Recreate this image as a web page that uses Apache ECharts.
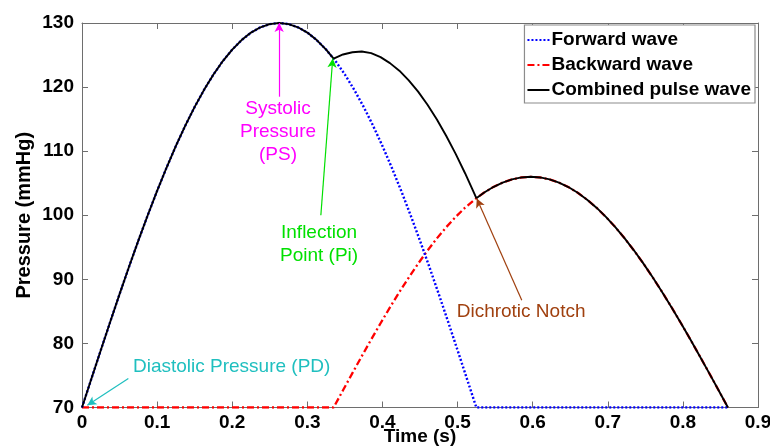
<!DOCTYPE html>
<html>
<head>
<meta charset="utf-8">
<script src="https://cdn.jsdelivr.net/npm/echarts@6/dist/echarts.min.js"></script>
<style>html,body{margin:0;padding:0;background:#fff}#c{width:770px;height:448px}</style>
</head>
<body>
<div id="c"></div>
<script>
// Time (s) and pressure (mmHg) readings
const forwardT = [0,0.0125,0.025,0.0375,0.05,0.0625,0.075,0.0875,0.1,0.1125,0.125,0.1375,0.15,0.1625,0.175,0.1875,0.2,0.2125,0.225,0.2375,0.25,0.2625,0.275,0.2875,0.3,0.3125,0.325,0.3375,0.35,0.3625,0.375,0.3875,0.4,0.4125,0.425,0.4375,0.45,0.4625,0.475,0.4875,0.5,0.5125,0.525,0.6,0.7,0.8,0.86];
const forwardP = [70,74.48,78.94,83.35,87.69,91.92,96.03,100,103.8,107.41,110.81,113.98,116.91,119.57,121.96,124.06,125.85,127.33,128.5,129.33,129.83,130,129.83,129.33,128.5,127.33,125.85,124.06,121.96,119.57,116.91,113.98,110.81,107.41,103.8,100,96.03,91.92,87.69,83.35,78.94,74.48,70,70,70,70,70];

const backwardT = [0,0.1,0.2,0.3,0.335,0.3475,0.36,0.3725,0.385,0.3975,0.41,0.4225,0.435,0.4475,0.46,0.4725,0.485,0.4975,0.51,0.5225,0.535,0.5475,0.56,0.5725,0.585,0.5975,0.61,0.6225,0.635,0.6475,0.66,0.6725,0.685,0.6975,0.71,0.7225,0.735,0.7475,0.76,0.7725,0.785,0.7975,0.81,0.8225,0.835,0.8475,0.86];
const backwardP = [70,70,70,70,70,72.69,75.37,78.01,80.61,83.15,85.62,88,90.28,92.45,94.49,96.39,98.15,99.74,101.18,102.43,103.51,104.4,105.1,105.6,105.9,106,105.9,105.6,105.1,104.4,103.51,102.43,101.18,99.74,98.15,96.39,94.49,92.45,90.28,88,85.62,83.15,80.61,78.01,75.37,72.69,70];

const combinedT = [0,0.0125,0.025,0.0375,0.05,0.0625,0.075,0.0875,0.1,0.1125,0.125,0.1375,0.15,0.1625,0.175,0.1875,0.2,0.2125,0.225,0.2375,0.25,0.2625,0.275,0.2875,0.3,0.3125,0.325,
  0.335,0.3475,0.36,0.3725,0.385,0.3975,0.41,0.4225,0.435,0.4475,0.46,0.4725,0.485,0.4975,0.51,0.5225,0.525,
  0.535,0.5475,0.56,0.5725,0.585,0.5975,0.61,0.6225,0.635,0.6475,0.66,0.6725,0.685,0.6975,0.71,0.7225,0.735,0.7475,0.76,0.7725,0.785,0.7975,0.81,0.8225,0.835,0.8475,0.86];
const combinedP = [70,74.48,78.94,83.35,87.69,91.92,96.03,100,103.8,107.41,110.81,113.98,116.91,119.57,121.96,124.06,125.85,127.33,128.5,129.33,129.83,130,129.83,129.33,128.5,127.33,125.85,
  124.44,125.09,125.44,125.55,125.3,124.68,123.74,122.56,121.05,119.29,117.24,114.93,112.37,109.57,106.56,103.33,102.66,
  103.51,104.4,105.1,105.6,105.9,106,105.9,105.6,105.1,104.4,103.51,102.43,101.18,99.74,98.15,96.39,94.49,92.45,90.28,88,85.62,83.15,80.61,78.01,75.37,72.69,70];

const seriesNames = ['Forward wave','Backward wave','Combined pulse wave'];

// Annotations: text, text anchor [t, p], arrow tail [t, p], arrow tip [t, p]
const annotTexts = ['Systolic\nPressure\n(PS)','Inflection\nPoint (Pi)','Dichrotic Notch','Diastolic Pressure (PD)'];
const annotTextAt = [[0.261,113.0],[0.3156,95.48],[0.5846,85.0],[0.1993,76.29]];
const annotTail = [[0.2625,118.5],[0.318,100.0],[0.5855,86.74],[0.0617,74.52]];
const annotTip = [[0.2625,130],[0.3338,124.45],[0.5256,102.6],[0.0071,70.36]];
const annotColors = ['#ff00ff','#00e000','#a0400f','#1fbfbf'];

const zip = (a,b) => a.map((v,i)=>[v,b[i]]);
const FONT = '"Liberation Sans", Arial, sans-serif';
const AX = '#6e6e6e';

const chart = echarts.init(document.getElementById('c'), null, {renderer:'canvas'});
const baseX = {type:'value', min:0, max:0.9, interval:0.1, splitLine:{show:false},
  axisLine:{show:true, onZero:false, lineStyle:{color:AX,width:1}},
  axisTick:{show:true, inside:true, length:6, lineStyle:{color:AX}}};
const baseY = {type:'value', min:70, max:130, interval:10, splitLine:{show:false},
  axisLine:{show:true, onZero:false, lineStyle:{color:AX,width:1}},
  axisTick:{show:true, inside:true, length:6, lineStyle:{color:AX}}};

chart.setOption({
  animation:false,
  backgroundColor:'#fff',
  textStyle:{fontFamily:FONT},
  grid:{left:82, right:12, top:23, bottom:40.5, containLabel:false, outerBoundsMode:'none'},
  legend:{
    data:seriesNames, orient:'vertical', right:15, top:25,
    itemWidth:22, itemHeight:14, itemGap:3,
    padding:[4,4,2,2],
    backgroundColor:'#fff', borderColor:'#8c8c8c', borderWidth:1.2,
    itemStyle:{color:'rgba(0,0,0,0)', borderWidth:0, opacity:0},
    textStyle:{fontFamily:FONT, fontWeight:'bold', fontSize:19, color:'#000', lineHeight:22, padding:[0,0,0,-3]}
  },
  xAxis:[
    Object.assign({}, baseX, {position:'bottom', name:'Time (s)', nameLocation:'middle', nameGap:20, nameMoveOverlap:false,
      nameTextStyle:{fontFamily:FONT, fontWeight:'bold', fontSize:19, color:'#000'},
      axisLabel:{fontFamily:FONT, fontWeight:'bold', fontSize:19, color:'#000', margin:6}}),
    Object.assign({}, baseX, {position:'top', axisLabel:{show:false}})
  ],
  yAxis:[
    Object.assign({}, baseY, {position:'left', name:'Pressure (mmHg)', nameLocation:'middle', nameGap:48, nameMoveOverlap:false,
      nameTextStyle:{fontFamily:FONT, fontWeight:'bold', fontSize:20, color:'#000'},
      axisLabel:{fontFamily:FONT, fontWeight:'bold', fontSize:19, color:'#000', margin:8}}),
    Object.assign({}, baseY, {position:'right', axisLabel:{show:false}})
  ],
  series:[
    {name:seriesNames[1], type:'line', data:zip(backwardT,backwardP), showSymbol:false, symbol:'none',
      color:'#ff0000', lineStyle:{color:'#ff0000', width:2.3, type:[7,3,2,3]}, z:2},
    {name:seriesNames[0], type:'line', data:zip(forwardT,forwardP), showSymbol:false, symbol:'none',
      color:'#0000ff', lineStyle:{color:'#0000ff', width:2.4, type:[2,2]}, z:3},
    {name:seriesNames[2], type:'line', data:zip(combinedT,combinedP), showSymbol:false, symbol:'none',
      color:'#000', lineStyle:{color:'#000', width:1.9}, z:4},
    {name:'annotations', type:'line', data:[], z:5,
      markLine:{silent:true, animation:false, symbol:['none','arrow'], symbolSize:[7,9], label:{show:false},
        data: annotTail.map((t,i)=>[
          {coord:t, lineStyle:{color:annotColors[i], width:1.2, type:'solid'}, itemStyle:{color:annotColors[i]}},
          {coord:annotTip[i]}
        ])},
      markPoint:{silent:true, animation:false, symbol:'circle', symbolSize:1,
        itemStyle:{color:'rgba(0,0,0,0)'},
        data: annotTextAt.map((c,i)=>({coord:c,
          label:{show:true, position:'inside', formatter:annotTexts[i], color:annotColors[i],
            fontFamily:FONT, fontSize:19, lineHeight:23, align:'center', verticalAlign:'middle'}}))}
    }
  ]
});
</script>
</body>
</html>
